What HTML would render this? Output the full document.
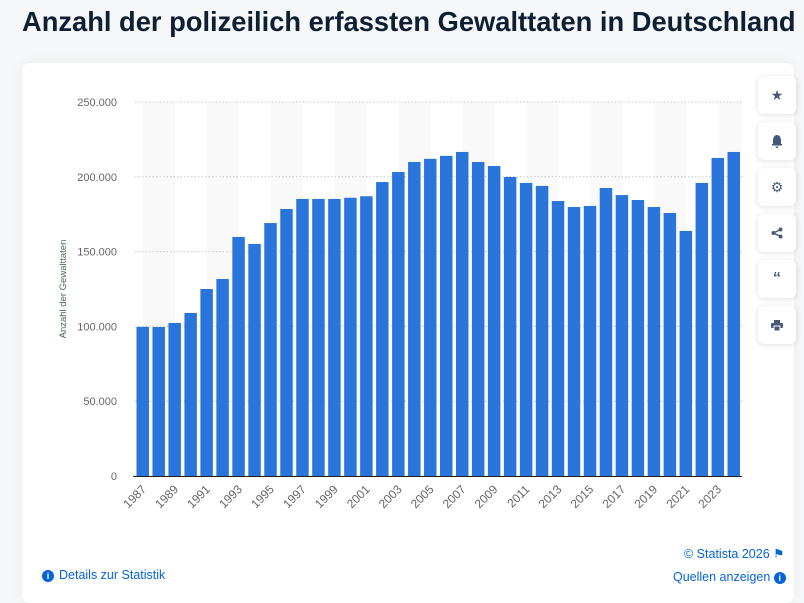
<!DOCTYPE html>
<html><head><meta charset="utf-8">
<style>
body{margin:0;width:804px;height:589px;background:#f6f7f9;font-family:"Liberation Sans",sans-serif;overflow:hidden;position:relative}
h1{position:absolute;left:22px;top:6px;margin:0;font-size:27.3px;font-weight:bold;color:#0f1f33;white-space:nowrap}
#card{position:absolute;left:22px;top:63px;width:772px;height:540px;background:#fff;border-radius:8px;box-shadow:0 0 14px rgba(0,0,0,0.05)}
.btn{position:absolute;left:758px;width:38px;height:38px;background:#fff;border-radius:6px;box-shadow:0 1px 6px rgba(0,0,0,0.12);display:flex;align-items:center;justify-content:center;color:#455a7a;font-size:14px}
.lnk{position:absolute;color:#0563d8;font-size:12.5px;white-space:nowrap}
</style></head><body>
<h1>Anzahl der polizeilich erfassten Gewalttaten in Deutschland</h1>
<div id="card"></div>
<svg id="chart" width="804" height="589" style="position:absolute;left:0;top:0"></svg>
<div class="btn" style="top:76px">★</div>
<div class="btn" style="top:122px"><svg width="12" height="14"><path d="M6 1C3 1 2 4 2 7V10H1V11.5H11V10H10V7C10 4 9 1 6 1ZM4.5 12.5H7.5A1.5 1.5 0 0 1 4.5 12.5Z" fill="#455a7a"/></svg></div>
<div class="btn" style="top:168px">⚙</div>
<div class="btn" style="top:214px"><svg width="12" height="12"><circle cx="9.5" cy="2.5" r="2" fill="#455a7a"/><circle cx="9.5" cy="9.5" r="2" fill="#455a7a"/><circle cx="2.5" cy="6" r="2" fill="#455a7a"/><path d="M2.5 6L9.5 2.5M2.5 6L9.5 9.5" stroke="#455a7a" stroke-width="1.3"/></svg></div>
<div class="btn" style="top:260px;font-weight:bold;font-size:16px">“</div>
<div class="btn" style="top:306px"><svg width="12" height="11"><rect x="3" y="0" width="6" height="3" fill="#455a7a"/><rect x="0" y="3" width="12" height="5" rx="1" fill="#455a7a"/><rect x="3" y="6" width="6" height="5" fill="#455a7a" stroke="#fff" stroke-width="1"/></svg></div>
<div class="lnk" style="left:42px;top:568px"><span style="display:inline-block;width:12px;height:12px;border-radius:6px;background:#0563d8;color:#fff;font-size:9px;text-align:center;line-height:12px;font-weight:bold;margin-right:5px">i</span>Details zur Statistik</div>
<div class="lnk" style="left:684px;top:546px">© Statista 2026 ⚑</div>
<div class="lnk" style="left:673px;top:570px">Quellen anzeigen <span style="display:inline-block;width:12px;height:12px;border-radius:6px;background:#0563d8;color:#fff;font-size:9px;text-align:center;line-height:12px;font-weight:bold">i</span></div>
<script>
const years=[1987,1988,1989,1990,1991,1992,1993,1994,1995,1996,1997,1998,1999,2000,2001,2002,2003,2004,2005,2006,2007,2008,2009,2010,2011,2012,2013,2014,2015,2016,2017,2018,2019,2020,2021,2022,2023,2024];
const values=[99700,99600,102300,109000,125000,131700,159800,155100,169100,178500,185200,185200,185200,186000,187000,196500,203200,209900,212000,214000,216600,209900,207200,199900,195900,193900,183800,179800,180500,192500,187800,184500,179800,175800,163800,195900,212600,216600];
const yTicks=[0,50000,100000,150000,200000,250000];
const yTickLabels=["0","50.000","100.000","150.000","200.000","250.000"];
const svg=document.getElementById('chart');const NS="http://www.w3.org/2000/svg";
const x0=135,x1=742,yB=476,yT=102,yMax=250000;
const slot=(x1-x0)/years.length;
const xS=i=>x0+i*slot;const yS=v=>yB-(v/yMax)*(yB-yT);
function mk(t,a){const e=document.createElementNS(NS,t);for(const k in a)e.setAttribute(k,a[k]);svg.appendChild(e);return e;}
for(let i=0;i<years.length;i+=4){const sx=xS(i)+slot/2;const w=Math.min(slot*2,x1-sx);const s=mk('rect',{x:sx,y:yT,width:w,height:yB-yT,fill:'#f9f9fa'});

}
yTicks.forEach((t,i)=>{const y=yS(t);
if(t>0){const g=mk('line',{x1:x0,x2:x1,y1:y,y2:y,stroke:'#c8c8c8','stroke-dasharray':'1.5,2'});

}
const l=mk('text',{x:117,y:y+4,'text-anchor':'end','font-size':'11',fill:'#666'});l.textContent=yTickLabels[i];

});
values.forEach((v,i)=>{const b=mk('rect',{x:xS(i)+1.5,y:yS(v),width:slot-3.5,height:yB-yS(v),fill:'#2a75dc'});

});
const ax=mk('line',{x1:x0-2,x2:x1,y1:yB+0.5,y2:yB+0.5,stroke:'#222','stroke-width':1});


years.forEach((yr,i)=>{if(i%2)return;const cx=xS(i)+slot/2+4,cy=yB+14;
const t=mk('text',{x:cx,y:cy,'text-anchor':'end','font-size':'12',fill:'#666',transform:`rotate(-45 ${cx} ${cy})`});t.textContent=yr;

});
const yt=mk('text',{x:66,y:289,'text-anchor':'middle','font-size':'9.5',fill:'#3c6e4a',transform:'rotate(-90 66 289)'});yt.textContent='Anzahl der Gewalttaten';


</script>
</body></html>
